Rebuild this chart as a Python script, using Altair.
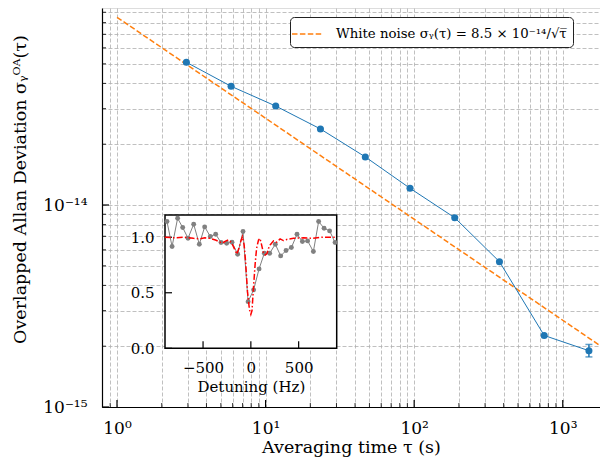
import altair as alt
import pandas as pd

# ---------------- data ----------------
tau = [2.93, 5.86, 11.7, 23.4, 46.9, 93.8, 187.5, 375, 750, 1500]
adev = [5.09e-14, 3.87e-14, 3.09e-14, 2.38e-14, 1.73e-14, 1.21e-14,
        8.65e-15, 5.24e-15, 2.26e-15, 1.90e-15]
err_tau = [1500]
err_lo = [1.77e-15]
err_hi = [2.04e-15]

wn_label = "White noise σᵧ(τ) = 8.5 × 10⁻¹⁴/√τ̅"
wn_tau = [1.0, 2100.0]
wn_val = [8.5e-14, 1.855e-15]

x_major = [1, 10, 100, 1000]
x_minor = [0.9, 2, 3, 4, 5, 6, 7, 8, 9, 20, 30, 40, 50, 60, 70, 80, 90,
           200, 300, 400, 500, 600, 700, 800, 900]
y_major = [1e-15, 1e-14]
y_minor = [2e-15, 3e-15, 4e-15, 5e-15, 6e-15, 7e-15, 8e-15, 9e-15,
           2e-14, 3e-14, 4e-14, 5e-14, 6e-14, 7e-14, 8e-14, 9e-14]

# inset: measured points
det_pts = [-877, -824, -766, -713, -657, -598, -539, -483, -424, -368, -312,
           -253, -197, -138, -82, -29, 29, 86, 141, 197, 256, 312, 368, 424,
           483, 539, 594, 654, 709, 766, 824, 881]
sig_pts = [1.141, 0.916, 1.171, 1.087, 0.991, 1.117, 0.937, 1.093, 1.006,
           1.027, 0.952, 0.946, 0.955, 0.847, 1.051, 0.420, 0.526, 0.715,
           0.856, 0.856, 0.937, 0.832, 0.880, 0.907, 1.027, 0.961, 0.967,
           0.871, 1.141, 1.081, 1.057, 0.952]
# inset: fitted curve
det_fit = [-900, -800, -700, -600, -530, -480, -426, -370, -330, -300, -265,
           -234, -205, -182, -147, -125, -105, -88, -70, -55, -35, -15, 0,
           12, 27, 45, 60, 80, 95, 110, 132, 150, 167, 185, 202, 237, 270,
           306, 340, 376, 446, 550, 650, 750, 900]
sig_fit = [1.0, 0.995, 1.0, 0.99, 0.985, 0.995, 0.99, 0.975, 0.96, 0.946,
           0.965, 0.976, 0.955, 0.915, 0.847, 0.9, 0.965, 1.005, 0.93, 0.78,
           0.51, 0.35, 0.305, 0.34, 0.54, 0.76, 0.9, 0.975, 0.99, 0.94,
           0.856, 0.84, 0.85, 0.9, 0.93, 0.967, 0.955, 0.985, 0.97, 0.98,
           0.99, 0.995, 0.99, 1.0, 1.0]
inset_xticks = [-500, 0, 500]
inset_yticks = [0.0, 0.5, 1.0]
inset_box_x = [-898]
inset_box_x2 = [898]
inset_box_y = [0.0]
inset_box_y2 = [1.2]

# ---------------- layout ----------------
W, H = 498, 399
FONT = "DejaVu Serif"
GRID = "#b0b0b0"

xs = alt.Scale(type="log", domain=[0.7926, 1781], nice=False)
ys = alt.Scale(type="log", domain=[1e-15, 9.447e-14], nice=False)

x_lab = ("datum.value == 1 ? '10⁰' : datum.value == 10 ? '10¹' : "
         "datum.value == 100 ? '10²' : datum.value == 1000 ? '10³' : ''")
y_lab = ("datum.value == 1e-15 ? '10⁻¹⁵' : datum.value == 1e-14 ? '10⁻¹⁴' : ''")

x_axis = alt.Axis(values=x_major + x_minor, labelExpr=x_lab, grid=True,
                  gridDash=[4, 2], gridColor=GRID, gridWidth=0.8, ticks=False,
                  domainColor="black", domainWidth=1.2, labelFont=FONT,
                  labelFontSize=17, labelColor="black", labelPadding=26,
                  labelBaseline="alphabetic",
                  labelOverlap=False, labelBound=False, labelFlush=False,
                  title="Averaging time τ (s)", titleFont=FONT,
                  titleFontSize=17.5, titleFontWeight="normal",
                  titleColor="black", titleBaseline="alphabetic", titleY=45)
y_axis = alt.Axis(values=y_major + y_minor, labelExpr=y_lab, grid=True,
                  gridDash=[4, 2], gridColor=GRID, gridWidth=0.8, ticks=False,
                  domainColor="black", domainWidth=1.2, labelFont=FONT,
                  labelFontSize=17, labelColor="black", labelPadding=15,
                  labelOverlap=False, labelBound=False, labelFlush=False,
                  title="Overlapped Allan Deviation σᵧᴼᴬ(τ)", titleFont=FONT,
                  titleFontSize=17.5, titleFontWeight="normal",
                  titleColor="black", titleX=-73, titleY=181)

df_main = pd.DataFrame({"tau": tau, "adev": adev})
df_err = pd.DataFrame({"tau": err_tau, "lo": err_lo, "hi": err_hi})
df_wn = pd.DataFrame({"tau": wn_tau, "val": wn_val, "lbl": [wn_label] * 2})
df_xmaj = pd.DataFrame({"v": x_major})
df_xmin = pd.DataFrame({"v": x_minor})
df_ymaj = pd.DataFrame({"v": y_major})
df_ymin = pd.DataFrame({"v": y_minor})

# grid / axes carrier (invisible points)
axes_layer = alt.Chart(df_main).mark_point(opacity=0).encode(
    x=alt.X("tau:Q", scale=xs, axis=x_axis),
    y=alt.Y("adev:Q", scale=ys, axis=y_axis),
)

# inward ticks
xt_major = alt.Chart(df_xmaj).mark_rule(color="black", strokeWidth=1.2).encode(
    x=alt.X("v:Q", scale=xs), y=alt.value(H), y2=alt.value(H - 7))
xt_minor = alt.Chart(df_xmin).mark_rule(color="black", strokeWidth=0.8, clip=True).encode(
    x=alt.X("v:Q", scale=xs), y=alt.value(H), y2=alt.value(H - 4))
yt_major = alt.Chart(df_ymaj).mark_rule(color="black", strokeWidth=1.2).encode(
    y=alt.Y("v:Q", scale=ys), x=alt.value(0), x2=alt.value(7))
yt_minor = alt.Chart(df_ymin).mark_rule(color="black", strokeWidth=0.8, clip=True).encode(
    y=alt.Y("v:Q", scale=ys), x=alt.value(0), x2=alt.value(4))

wn_line = alt.Chart(df_wn).mark_line(strokeWidth=1.5, strokeDash=[5.5, 2.4], clip=True).encode(
    x=alt.X("tau:Q", scale=xs),
    y=alt.Y("val:Q", scale=ys),
    color=alt.Color("lbl:N", scale=alt.Scale(domain=[wn_label], range=["#ff7f0e"]),
                    legend=alt.Legend(title=None, orient="none", legendX=188,
                                      legendY=9, symbolType="M-1.5,0H1.5",
                                      symbolDash=[5.5, 2.4], symbolStrokeWidth=1.5,
                                      symbolSize=400, labelFont=FONT,
                                      labelFontSize=13.3, labelColor="black",
                                      labelLimit=0, padding=6, cornerRadius=4,
                                      strokeColor="#222", fillColor="white",
                                      labelOffset=18)),
)

adev_line = alt.Chart(df_main).mark_line(color="#1f77b4", strokeWidth=1).encode(
    x=alt.X("tau:Q", scale=xs), y=alt.Y("adev:Q", scale=ys))
adev_pts = alt.Chart(df_main).mark_circle(color="#1f77b4", size=50, opacity=1).encode(
    x=alt.X("tau:Q", scale=xs), y=alt.Y("adev:Q", scale=ys))
err_rule = alt.Chart(df_err).mark_rule(color="#1f77b4", strokeWidth=1.5).encode(
    x=alt.X("tau:Q", scale=xs), y=alt.Y("lo:Q", scale=ys), y2="hi:Q")
err_cap_lo = alt.Chart(df_err).mark_tick(color="#1f77b4", orient="horizontal",
                                         size=7, thickness=1.5).encode(
    x=alt.X("tau:Q", scale=xs), y=alt.Y("lo:Q", scale=ys))
err_cap_hi = alt.Chart(df_err).mark_tick(color="#1f77b4", orient="horizontal",
                                         size=7, thickness=1.5).encode(
    x=alt.X("tau:Q", scale=xs), y=alt.Y("hi:Q", scale=ys))

main = alt.layer(axes_layer, xt_minor, yt_minor, xt_major, yt_major, wn_line,
                 adev_line, err_rule, err_cap_lo, err_cap_hi, adev_pts)

# ---------------- inset ----------------
IX0, IX1 = 63, 234.7
IY0, IY1 = 340.3, 207
ixs = alt.Scale(domain=[-898, 898], range=[IX0, IX1], nice=False, zero=False)
iys = alt.Scale(domain=[0, 1.2], range=[IY0, IY1], nice=False, zero=False)

ix_axis = alt.Axis(orient="bottom", offset=-(H - IY0), values=inset_xticks,
                   domain=False, ticks=False, grid=False, labelFont=FONT,
                   labelFontSize=15, labelColor="black", labelPadding=24,
                   labelBaseline="alphabetic",
                   title="Detuning (Hz)", titleFont=FONT, titleFontSize=15,
                   titleFontWeight="normal", titleColor="black",
                   titleBaseline="alphabetic", titleY=43)
iy_axis = alt.Axis(orient="left", offset=-IX0, values=inset_yticks, format=".1f",
                   domain=False, ticks=False, grid=False, labelFont=FONT,
                   labelFontSize=15, labelColor="black", labelPadding=11,
                   title=None)

df_box = pd.DataFrame({"x": inset_box_x, "x2": inset_box_x2,
                       "y": inset_box_y, "y2": inset_box_y2})
df_pts = pd.DataFrame({"d": det_pts, "s": sig_pts})
df_fit = pd.DataFrame({"d": det_fit, "s": sig_fit})
df_ixt = pd.DataFrame({"v": inset_xticks})
df_iyt = pd.DataFrame({"v": inset_yticks})

box = alt.Chart(df_box).mark_rect(fill="white", stroke="black", strokeWidth=1.5).encode(
    x=alt.X("x:Q", scale=ixs, axis=ix_axis),
    x2="x2:Q",
    y=alt.Y("y:Q", scale=iys, axis=iy_axis),
    y2="y2:Q",
)
ixt = alt.Chart(df_ixt).mark_rule(color="black", strokeWidth=1.2).encode(
    x=alt.X("v:Q", scale=ixs), y=alt.value(IY0), y2=alt.value(IY0 - 7))
iyt = alt.Chart(df_iyt).mark_rule(color="black", strokeWidth=1.2).encode(
    y=alt.Y("v:Q", scale=iys), x=alt.value(IX0), x2=alt.value(IX0 + 7))
pts_line = alt.Chart(df_pts).mark_line(color="#808080", strokeWidth=1).encode(
    x=alt.X("d:Q", scale=ixs), y=alt.Y("s:Q", scale=iys))
pts = alt.Chart(df_pts).mark_circle(color="#808080", size=24, opacity=1).encode(
    x=alt.X("d:Q", scale=ixs), y=alt.Y("s:Q", scale=iys))
fit = alt.Chart(df_fit).mark_line(color="red", strokeWidth=1.5,
                                  strokeDash=[6, 2.2, 1.5, 2.2]).encode(
    x=alt.X("d:Q", scale=ixs), y=alt.Y("s:Q", scale=iys))

inset = alt.layer(box, ixt, iyt, pts_line, pts, fit)

chart = alt.layer(main, inset).resolve_scale(
    x="independent", y="independent"
).resolve_axis(
    x="independent", y="independent"
).properties(
    width=W, height=H,
    autosize=alt.AutoSizeParams(type="none"),
    padding={"left": 94, "top": 0, "right": 0, "bottom": 50},
).configure_view(stroke=None).configure(background="white")

chart.save("out.html", embed_options={"renderer": "svg", "actions": False})
